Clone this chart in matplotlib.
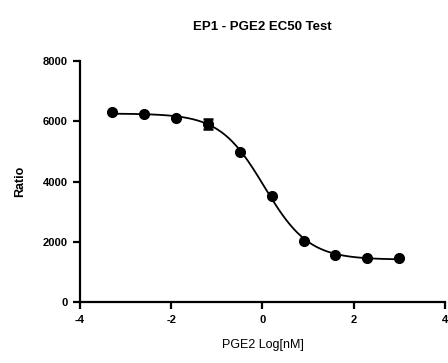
import numpy as np
import matplotlib
matplotlib.use('Agg')
import matplotlib.pyplot as plt

# PGE2 dose series (nM), 5-fold dilutions
log_conc = [-3.291, -2.592, -1.893, -1.194, -0.495, 0.204, 0.903, 1.602, 2.301, 3.0]
ratio = [6320, 6235, 6110, 5910, 4985, 3535, 2045, 1560, 1480, 1480]
ratio_err = [0, 0, 0, 170, 0, 0, 0, 0, 0, 0]

title = 'EP1 - PGE2 EC50 Test'
xlabel = 'PGE2 Log[nM]'
ylabel = 'Ratio'
xticks = [-4, -2, 0, 2, 4]
yticks = [0, 2000, 4000, 6000, 8000]

plt.rcParams['font.family'] = ['Liberation Sans', 'DejaVu Sans']

x = np.array(log_conc)
y = np.array(ratio)

# 4-parameter logistic fit (grid over logEC50 / hill, linear solve for bottom / span)
best = None
for c in np.linspace(-1.0, 1.0, 201):
    for h in np.linspace(0.4, 2.0, 161):
        s = 1.0 / (1.0 + 10 ** ((x - c) * h))
        A = np.column_stack([np.ones_like(s), s])
        coef, _, _, _ = np.linalg.lstsq(A, y, rcond=None)
        res = np.sum((A @ coef - y) ** 2)
        if best is None or res < best[0]:
            best = (res, c, h, coef)
_, c, h, (bottom, span) = best

xf = np.linspace(x.min(), x.max(), 300)
yf = bottom + span / (1.0 + 10 ** ((xf - c) * h))

fig = plt.figure(figsize=(4.48, 3.63), dpi=100)
ax = fig.add_axes([0.1786, 0.167, 0.8144, 0.665])

ax.plot(xf, yf, color='black', lw=1.3)
ax.errorbar(x, y, yerr=ratio_err, fmt='o', color='black', markersize=7,
            capsize=3.4, capthick=1.8, elinewidth=1.5)

ax.set_xlim(-4, 4)
ax.set_ylim(0, 8000)
ax.set_xticks(xticks)
ax.set_yticks(yticks)
ax.set_xticklabels([str(t) for t in xticks], fontweight='bold', fontsize=8)
ax.set_yticklabels([str(t) for t in yticks], fontweight='bold', fontsize=8)

for side in ['top', 'right']:
    ax.spines[side].set_visible(False)
for side in ['left', 'bottom']:
    ax.spines[side].set_linewidth(1.6)
ax.tick_params(width=1.6, length=5, pad=4)

ax.set_title(title, fontweight='bold', fontsize=9.5, pad=22)
ax.set_xlabel(xlabel, fontsize=9, labelpad=10)
ax.set_ylabel(ylabel, fontweight='bold', fontsize=9, labelpad=12)

plt.savefig('out.png', dpi=100)
